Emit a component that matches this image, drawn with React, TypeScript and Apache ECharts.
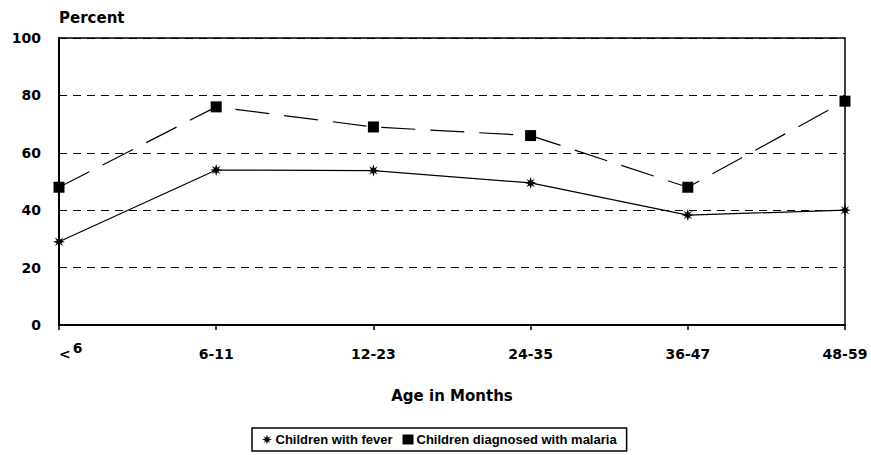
import React, { useEffect, useRef } from "react";
import * as echarts from "echarts";

const categories = ["< 6", "6-11", "12-23", "24-35", "36-47", "48-59"];
const feverValues = [29, 54, 53.8, 49.5, 38.3, 40];
const malariaValues = [48, 76, 69, 66, 48, 78];
const yTicks = { min: 0, max: 100, interval: 20 };
const seriesNames = ["Children with fever", "Children diagnosed with malaria"];

const FONT = "DejaVu Sans";
const LEGEND_FONT = "Liberation Sans";
const STAR =
  "path://M20 10 L13.7 11.9 L17.07 17.07 L11.9 13.7 L10 20 L8.1 13.7 L2.93 17.07 L6.3 11.9 L0 10 L6.3 8.1 L2.93 2.93 L8.1 6.3 L10 0 L11.9 6.3 L17.07 2.93 L13.7 8.1 Z";

export default function App() {
  const ref = useRef<HTMLDivElement>(null);
  useEffect(() => {
    if (!ref.current) return;
    const chart = echarts.init(ref.current, undefined, { renderer: "svg" });
    chart.setOption({
      animation: false,
      backgroundColor: "#fff",
      textStyle: { fontFamily: FONT, color: "#000" },
      grid: {
        left: 59,
        right: 26,
        top: 38,
        bottom: 130,
        show: true,
        borderColor: "#000",
        borderWidth: 1.5,
      },
      legend: {
        data: [
          { name: seriesNames[0], icon: STAR },
          { name: seriesNames[1], icon: "rect" },
        ],
        left: 252,
        top: 428,
        orient: "horizontal",
        borderColor: "#000",
        borderWidth: 1.5,
        borderRadius: 0,
        padding: [5, 10, 5, 10],
        itemGap: 10,
        itemWidth: 11,
        itemHeight: 10,
        textStyle: { fontFamily: LEGEND_FONT, fontSize: 13, fontWeight: "bold", color: "#000", padding: [0, 0, 0, -2] },
      },
      xAxis: {
        type: "category",
        data: categories,
        boundaryGap: false,
        name: "Age in Months",
        nameLocation: "middle",
        nameGap: 63,
        nameTextStyle: { fontFamily: FONT, fontSize: 15, fontWeight: "bold", color: "#000" },
        axisLine: { lineStyle: { color: "#000", width: 2 } },
        axisTick: { show: true, alignWithLabel: true, length: 5, lineStyle: { color: "#000", width: 1.5 } },
        axisLabel: {
          fontFamily: FONT,
          fontSize: 14,
          fontWeight: "bold",
          color: "#000",
          margin: 16,
          lineHeight: 26,
          alignMinLabel: "left",
          interval: 0,
          formatter: (v: string, i: number) => (i === 0 ? "{lt|<}{sp| }{sup|6}" : v),
          rich: {
            lt: { fontFamily: FONT, fontSize: 14, fontWeight: "bold", lineHeight: 26, verticalAlign: "middle", color: "#000" },
            sp: { fontFamily: FONT, fontSize: 6, lineHeight: 26 },
            sup: { fontFamily: FONT, fontSize: 14, fontWeight: "bold", lineHeight: 10, verticalAlign: "top", color: "#000" },
          },
        },
        splitLine: { show: false },
      },
      yAxis: {
        type: "value",
        min: yTicks.min,
        max: yTicks.max,
        interval: yTicks.interval,
        name: "Percent",
        nameLocation: "end",
        nameGap: 13,
        nameTextStyle: { fontFamily: FONT, fontSize: 15, fontWeight: "bold", color: "#000", align: "left" },
        axisLine: { show: true, lineStyle: { color: "#000", width: 2 } },
        axisTick: { show: false },
        axisLabel: { fontFamily: FONT, fontSize: 14, fontWeight: "bold", color: "#000", margin: 18 },
        splitLine: { show: true, lineStyle: { color: "#000", type: [8, 6], width: 1 } },
      },
      series: [
        {
          name: seriesNames[0],
          type: "line",
          data: feverValues,
          symbol: STAR,
          symbolSize: 12,
          itemStyle: { color: "#000" },
          lineStyle: { color: "#000", width: 1.2 },
        },
        {
          name: seriesNames[1],
          type: "line",
          data: malariaValues,
          symbol: "rect",
          symbolSize: 11,
          itemStyle: { color: "#000" },
          lineStyle: { color: "#000", width: 1.2, type: [34, 15] },
        },
      ],
    });
    return () => chart.dispose();
  }, []);
  return (
    <div
      ref={ref}
      style={{ position: "absolute", left: 0, top: 0, width: 871, height: 455 }}
    />
  );
}
